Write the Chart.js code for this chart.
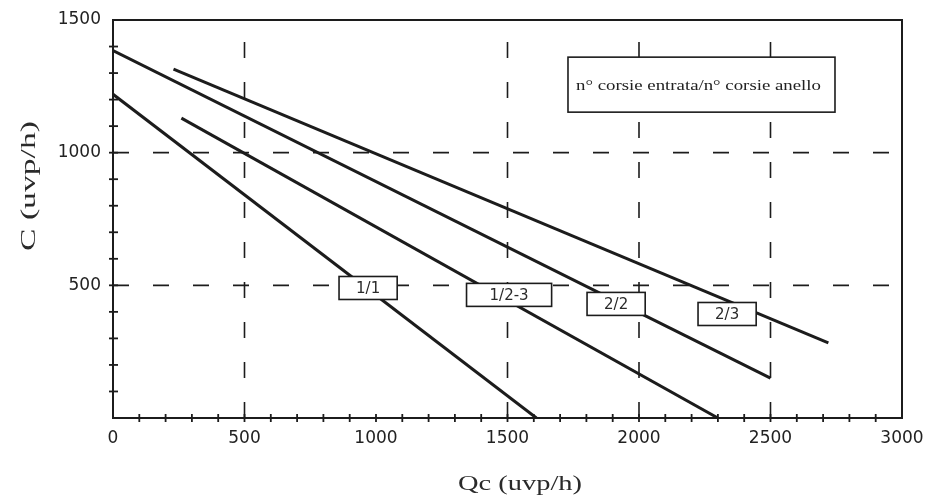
<!DOCTYPE html>
<html>
<head>
<meta charset="utf-8">
<script src="https://cdn.jsdelivr.net/npm/chart.js@4.4.1/dist/chart.umd.min.js"></script>
<style>
  html, body { margin: 0; padding: 0; background: #fff; }
  canvas { display: block; }
</style>
</head>
<body>
<canvas id="chart" width="929" height="502"></canvas>
<script>
// curve di capacità: C (uvp/h) in funzione di Qc (uvp/h)
const line11X = [0, 1610];
const line11Y = [1220, 0];
const line123X = [260, 2300];
const line123Y = [1130, 0];
const line22X = [0, 2500];
const line22Y = [1385, 150];
const line23X = [230, 2720];
const line23Y = [1315, 283];

// etichette delle curve (posizione in unità dei dati)
const labelTexts = ['1/1', '1/2-3', '2/2', '2/3'];
const labelX = [970, 1506, 1913, 2335];
const labelY = [490, 464, 430, 392];

const gridX = [500, 1500, 2000, 2500];
const gridY = [500, 1000];
const xTickLabels = [0, 500, 1000, 1500, 2000, 2500, 3000];
const yTickLabels = [500, 1000, 1500];

const legendText = 'n° corsie entrata/n° corsie anello';

const pts = (xs, ys) => xs.map((x, i) => ({ x, y: ys[i] }));
const ink = '#1c1c1c';

// testo allargato in orizzontale come nella scansione
function wideText(ctx, text, x, y, width) {
    const sx = width / ctx.measureText(text).width;
    ctx.save();
    ctx.translate(x, y);
    ctx.scale(sx, 1);
    ctx.fillText(text, 0, 0);
    ctx.restore();
}

const decor = {
    id: 'decor',
    beforeDatasetsDraw(chart) {
        const { ctx, chartArea: a, scales: { x, y } } = chart;
        ctx.save();
        ctx.strokeStyle = ink;
        ctx.lineWidth = 1.6;
        ctx.setLineDash([16, 24]);
        gridX.forEach(v => {
            const px = x.getPixelForValue(v);
            ctx.beginPath(); ctx.moveTo(px, a.bottom); ctx.lineTo(px, a.top); ctx.stroke();
        });
        gridY.forEach(v => {
            const py = y.getPixelForValue(v);
            ctx.beginPath(); ctx.moveTo(a.left, py); ctx.lineTo(a.right, py); ctx.stroke();
        });
        ctx.setLineDash([]);
        // cornice
        ctx.lineWidth = 2;
        ctx.strokeRect(a.left, a.top, a.right - a.left, a.bottom - a.top);
        // tacche ogni 100
        ctx.lineWidth = 1.8;
        for (let v = 100; v < 3000; v += 100) {
            const px = x.getPixelForValue(v);
            ctx.beginPath(); ctx.moveTo(px, a.bottom - 4); ctx.lineTo(px, a.bottom + 4); ctx.stroke();
        }
        for (let v = 100; v < 1500; v += 100) {
            const py = y.getPixelForValue(v);
            ctx.beginPath(); ctx.moveTo(a.left - 4, py); ctx.lineTo(a.left + 5, py); ctx.stroke();
        }
        ctx.restore();
    },
    afterDatasetsDraw(chart) {
        const { ctx, scales: { x, y } } = chart;
        ctx.save();
        // etichette delle curve
        ctx.font = '15px "DejaVu Sans", sans-serif';
        ctx.textAlign = 'center';
        ctx.textBaseline = 'middle';
        labelTexts.forEach((t, i) => {
            const cx = x.getPixelForValue(labelX[i]);
            const cy = y.getPixelForValue(labelY[i]);
            const w = ctx.measureText(t).width + (t.length > 3 ? 46 : 34);
            const h = 23;
            ctx.fillStyle = '#fff';
            ctx.fillRect(cx - w / 2, cy - h / 2, w, h);
            ctx.strokeStyle = ink;
            ctx.lineWidth = 1.6;
            ctx.strokeRect(cx - w / 2, cy - h / 2, w, h);
            ctx.fillStyle = '#2a2a2a';
            ctx.fillText(t, cx, cy + 1);
        });
        // riquadro legenda
        const lx = x.getPixelForValue(1730), ly = y.getPixelForValue(1360);
        const lw = 267, lh = 55;
        ctx.fillStyle = '#fff';
        ctx.fillRect(lx, ly, lw, lh);
        ctx.strokeStyle = ink;
        ctx.lineWidth = 1.6;
        ctx.strokeRect(lx, ly, lw, lh);
        ctx.font = '15px "Liberation Serif", "Times New Roman", serif';
        ctx.fillStyle = '#222';
        ctx.textAlign = 'left';
        wideText(ctx, legendText, lx + 8, ly + lh / 2 + 1, 245);
        // titoli degli assi
        ctx.font = '22px "Liberation Serif", "Times New Roman", serif';
        ctx.fillStyle = '#2a2a2a';
        ctx.textAlign = 'center';
        wideText(ctx, 'Qc (uvp/h)', 520, 484, 124);
        ctx.translate(29, 186);
        ctx.rotate(-Math.PI / 2);
        wideText(ctx, 'C (uvp/h)', 0, 0, 130);
        ctx.restore();
    }
};

const lineStyle = { borderColor: ink, borderWidth: 3, pointRadius: 0, fill: false, tension: 0 };
const tickFont = { family: '"DejaVu Sans", sans-serif', size: 17 };

new Chart(document.getElementById('chart'), {
    type: 'line',
    data: {
        datasets: [
            { label: '1/1', data: pts(line11X, line11Y), ...lineStyle },
            { label: '1/2-3', data: pts(line123X, line123Y), ...lineStyle },
            { label: '2/2', data: pts(line22X, line22Y), ...lineStyle },
            { label: '2/3', data: pts(line23X, line23Y), ...lineStyle }
        ]
    },
    options: {
        responsive: false,
        animation: false,
        layout: { padding: { top: 20, right: 27, left: 0, bottom: 0 } },
        plugins: { legend: { display: false }, tooltip: { enabled: false } },
        scales: {
            x: {
                type: 'linear', min: 0, max: 3000,
                afterFit: s => { s.height = 84; s.paddingLeft = 0; s.paddingRight = 0; },
                afterBuildTicks: s => { s.ticks = xTickLabels.map(v => ({ value: v })); },
                grid: { display: false, drawTicks: false },
                border: { display: true, color: ink, width: 2 },
                ticks: { font: tickFont, color: '#222', padding: 10, maxRotation: 0, autoSkip: false, callback: v => String(v) }
            },
            y: {
                min: 0, max: 1500,
                afterFit: s => { s.width = 113; s.paddingTop = 0; s.paddingBottom = 0; },
                afterBuildTicks: s => { s.ticks = yTickLabels.map(v => ({ value: v })); },
                grid: { display: false, drawTicks: false },
                border: { display: true, color: ink, width: 2 },
                ticks: { font: tickFont, color: '#222', padding: 12, callback: v => String(v) }
            }
        }
    },
    plugins: [decor]
});
</script>
</body>
</html>
